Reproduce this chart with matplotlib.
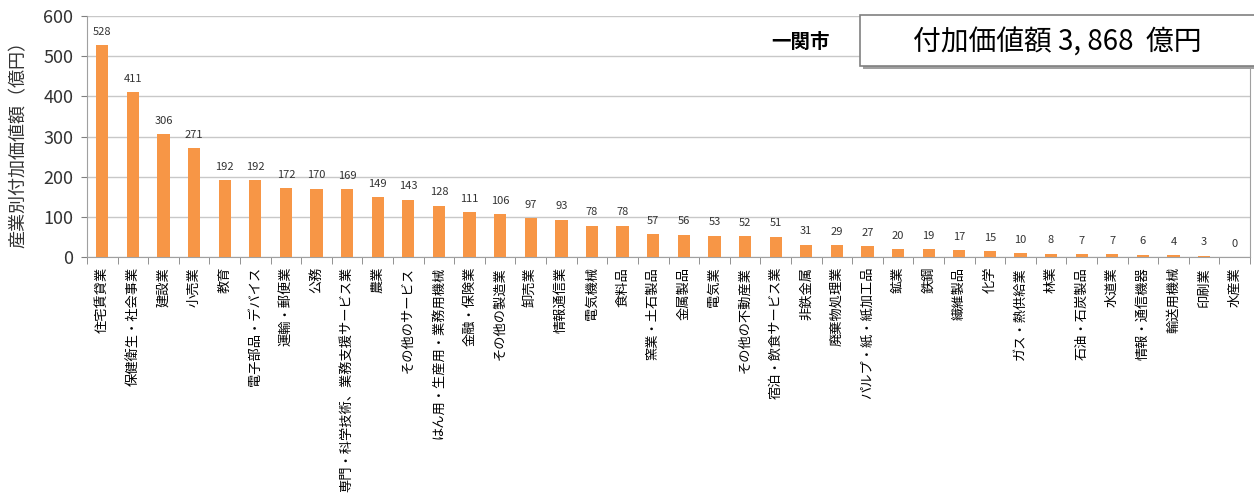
import matplotlib
matplotlib.use('Agg')
import matplotlib.pyplot as plt
import matplotlib.patches as mpatches
import numpy as np

plt.rcParams['font.family'] = ['Noto Sans CJK JP', 'DejaVu Sans']

industries = ['住宅賃貸業', '保健衛生・社会事業', '建設業', '小売業', '教育',
              '電子部品・デバイス', '運輸・郵便業', '公務',
              '専門・科学技術、業務支援サービス業', '農業', 'その他のサービス',
              'はん用・生産用・業務用機械', '金融・保険業', 'その他の製造業', '卸売業',
              '情報通信業', '電気機械', '食料品', '窯業・土石製品', '金属製品', '電気業',
              'その他の不動産業', '宿泊・飲食サービス業', '非鉄金属', '廃棄物処理業',
              'パルプ・紙・紙加工品', '鉱業', '鉄鋼', '繊維製品', '化学', 'ガス・熱供給業',
              '林業', '石油・石炭製品', '水道業', '情報・通信機器', '輸送用機械',
              '印刷業', '水産業']
values = [528, 411, 306, 271, 192, 192, 172, 170, 169, 149, 143, 128, 111, 106,
          97, 93, 78, 78, 57, 56, 53, 52, 51, 31, 29, 27, 20, 19, 17, 15, 10,
          8, 7, 7, 6, 4, 3, 0]
yticks = [0, 100, 200, 300, 400, 500, 600]
city = '一関市'
total_text = '付加価値額 3, 868  億円'

fig = plt.figure(figsize=(12.54, 5.03), dpi=100)
ax = fig.add_axes([0.0694, 0.489, 0.9274, 0.479])

x = np.arange(len(industries))
bars = ax.bar(x, values, width=0.4, color='#F79646', zorder=3)
for xi, v in zip(x, values):
    ax.annotate(str(v), (xi, v), xytext=(0, 6), textcoords='offset points',
                ha='center', va='bottom', fontsize=8, color='#333333')

ax.set_xlim(-0.5, len(industries) - 0.5)
ax.set_ylim(0, 600)
ax.set_yticks(yticks)
ax.tick_params(axis='y', labelsize=13, colors='#808080', labelcolor='#333333',
               length=4, pad=6)
ax.yaxis.grid(True, color='#C8C8C8', linewidth=1, zorder=0)

ax.set_xticks(x)
ax.set_xticklabels(industries, rotation=90, fontsize=9.5, va='top', ha='center')
ax.tick_params(axis='x', which='major', length=0, pad=7)
ax.set_xticks(np.arange(-0.5, len(industries), 1), minor=True)
ax.tick_params(axis='x', which='minor', length=5, color='#808080')

for side in ['left', 'bottom', 'right', 'top']:
    ax.spines[side].set_color('#A0A0A0')
ax.spines['top'].set_visible(False)

fig.text(0.015, 0.722, '産業別付加価値額（億円）', rotation=90, ha='center',
         va='center', fontsize=13, color='#333333')

# title box top right
shadow = mpatches.Rectangle((0.688, 0.862), 0.32, 0.101, transform=fig.transFigure,
                            facecolor='#A0A0A0', edgecolor='none', zorder=4)
box = mpatches.Rectangle((0.686, 0.869), 0.32, 0.101, transform=fig.transFigure,
                         facecolor='white', edgecolor='#808080', linewidth=1.2,
                         zorder=5)
fig.patches.extend([shadow, box])
fig.text(0.843, 0.916, total_text, ha='center', va='center', fontsize=20,
         zorder=6)
fig.text(0.638, 0.916, city, ha='center', va='center', fontsize=14,
         fontweight='bold', zorder=6)

fig.savefig('out.png', dpi=100)
